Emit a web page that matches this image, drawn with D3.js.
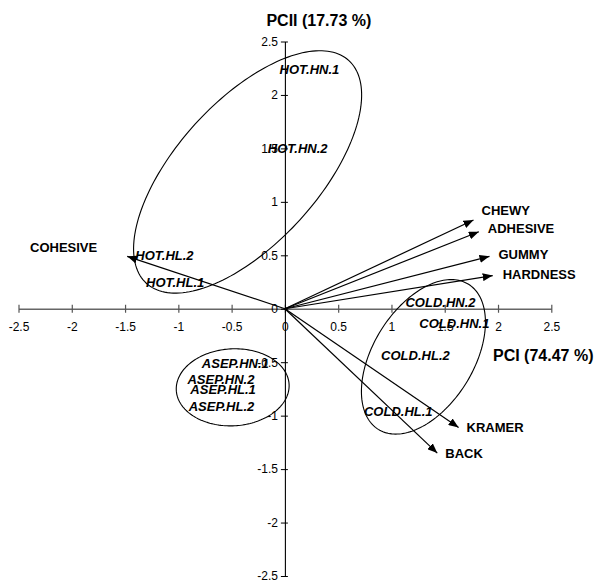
<!DOCTYPE html>
<html>
<head>
<meta charset="utf-8">
<script src="https://cdn.jsdelivr.net/npm/d3@7/dist/d3.min.js"></script>
<style>
  html, body { margin: 0; padding: 0; background: #fff; }
  svg { display: block; font-family: Arial, "Liberation Sans", sans-serif; }
</style>
</head>
<body>
<svg id="chart" width="594" height="583"></svg>
<script>
// Axis titles (explained variance per component)
const axisTitleX = "PCI (74.47 %)";
const axisTitleY = "PCII (17.73 %)";

// Tick values shared by both axes
const tickValues = [-2.5, -2, -1.5, -1, -0.5, 0, 0.5, 1, 1.5, 2, 2.5];

// Sample scores on PC1 / PC2
const sampleNames = ["HOT.HN.1", "HOT.HN.2", "HOT.HL.2", "HOT.HL.1",
                     "ASEP.HN.1", "ASEP.HN.2", "ASEP.HL.1", "ASEP.HL.2",
                     "COLD.HN.2", "COLD.HN.1", "COLD.HL.2", "COLD.HL.1"];
const samplePC1 = [0.23, 0.12, -1.13, -1.03,
                   -0.465, -0.60, -0.58, -0.595,
                   1.46, 1.59, 1.225, 1.064];
const samplePC2 = [2.243, 1.50, 0.50, 0.25,
                   -0.51, -0.66, -0.75, -0.91,
                   0.063, -0.14, -0.436, -0.96];

// Variable loadings (arrow tips)
const variableNames = ["CHEWY", "ADHESIVE", "GUMMY", "HARDNESS", "COHESIVE", "KRAMER", "BACK"];
const loadPC1 = [1.77, 1.82, 1.92, 1.95, -1.48, 1.63, 1.43];
const loadPC2 = [0.83, 0.72, 0.49, 0.31, 0.49, -1.11, -1.35];

// Group outlines: centre, semi-axes and tilt (degrees), in score units
const groupNames  = ["HOT", "ASEP", "COLD"];
const groupCX     = [-0.35, -0.49, 1.30];
const groupCY     = [1.28, -0.735, -0.45];
const groupA      = [1.41, 0.53, 0.80];
const groupB      = [0.665, 0.36, 0.47];
const groupAngle  = [47.6, 3, 58];

// ---- layout ----
const svg = d3.select("#chart");
const x = d3.scaleLinear().domain([-2.5, 2.5]).range([18.5, 551.3]);
const y = d3.scaleLinear().domain([-2.5, 2.5]).range([576, 41.5]);

// label placement relative to each arrow tip (px): [dx, dy, anchor]
const varLabelPlacement = {
  CHEWY:    [8, -10, "start"],
  ADHESIVE: [9, -3, "start"],
  GUMMY:    [9, -2, "start"],
  HARDNESS: [10, -1, "start"],
  COHESIVE: [-30, -9, "end"],
  KRAMER:   [8, 0, "start"],
  BACK:     [8, 0, "start"]
};

// ---- axes ----
const fmt = d => String(d);

const xAxis = svg.append("g")
  .attr("transform", `translate(0,${y(0)})`)
  .call(d3.axisBottom(x).tickValues(tickValues).tickFormat(fmt)
        .tickSizeInner(4).tickSizeOuter(0).tickPadding(10));
xAxis.select(".domain").attr("stroke", "#666").attr("stroke-width", 1.6);
xAxis.selectAll(".tick line").attr("y1", -4).attr("y2", 4)
  .attr("stroke", "#555").attr("stroke-width", 1.2);
xAxis.selectAll(".tick text")
  .attr("font-size", 12).attr("font-family", "Arial, 'Liberation Sans', sans-serif")
  .attr("fill", "#000");

const yAxis = svg.append("g")
  .attr("transform", `translate(${x(0)},0)`)
  .call(d3.axisLeft(y).tickValues(tickValues).tickFormat(fmt)
        .tickSizeInner(4).tickSizeOuter(0).tickPadding(3));
yAxis.select(".domain").attr("stroke", "#000").attr("stroke-width", 1.1);
yAxis.selectAll(".tick line").attr("x1", -4).attr("x2", 3)
  .attr("stroke", "#000").attr("stroke-width", 1);
yAxis.selectAll(".tick text")
  .attr("font-size", 12).attr("font-family", "Arial, 'Liberation Sans', sans-serif")
  .attr("fill", "#000");

// axis titles
svg.append("text")
  .attr("x", x(0) + 34).attr("y", 25.5)
  .attr("text-anchor", "middle")
  .attr("font-size", 16).attr("font-weight", "bold")
  .text(axisTitleY);
svg.append("text")
  .attr("x", 493).attr("y", 361)
  .attr("font-size", 16).attr("font-weight", "bold")
  .text(axisTitleX);

// ---- group ellipses ----
const ellipseLine = d3.line().x(p => x(p[0])).y(p => y(p[1])).curve(d3.curveLinearClosed);
const groups = groupNames.map((g, i) => {
  const th = groupAngle[i] * Math.PI / 180;
  const pts = d3.range(0, 360, 2).map(t => {
    const r = t * Math.PI / 180;
    const u = groupA[i] * Math.cos(r), v = groupB[i] * Math.sin(r);
    return [groupCX[i] + u * Math.cos(th) - v * Math.sin(th),
            groupCY[i] + u * Math.sin(th) + v * Math.cos(th)];
  });
  return { name: g, pts };
});
svg.append("g").selectAll("path").data(groups).join("path")
  .attr("d", d => ellipseLine(d.pts))
  .attr("fill", "none").attr("stroke", "#000").attr("stroke-width", 1.1);

// ---- loading arrows ----
svg.append("defs").append("marker")
  .attr("id", "arrowhead")
  .attr("viewBox", "0 0 10 8")
  .attr("refX", 10).attr("refY", 4)
  .attr("markerWidth", 10).attr("markerHeight", 8)
  .attr("markerUnits", "userSpaceOnUse")
  .attr("orient", "auto")
  .append("path").attr("d", "M0,0 L10,4 L0,8 Z").attr("fill", "#000");

const vars = variableNames.map((n, i) => ({ name: n, px: loadPC1[i], py: loadPC2[i] }));

svg.append("g").selectAll("line").data(vars).join("line")
  .attr("x1", x(0)).attr("y1", y(0))
  .attr("x2", d => x(d.px)).attr("y2", d => y(d.py))
  .attr("stroke", "#000").attr("stroke-width", 1.2)
  .attr("marker-end", "url(#arrowhead)");

svg.append("g").selectAll("text").data(vars).join("text")
  .attr("x", d => x(d.px) + varLabelPlacement[d.name][0])
  .attr("y", d => y(d.py) + varLabelPlacement[d.name][1])
  .attr("dy", "0.36em")
  .attr("text-anchor", d => varLabelPlacement[d.name][2])
  .attr("font-size", 13).attr("font-weight", "bold")
  .text(d => d.name);

// ---- sample labels ----
const samples = sampleNames.map((n, i) => ({ name: n, px: samplePC1[i], py: samplePC2[i] }));
svg.append("g").selectAll("text").data(samples).join("text")
  .attr("x", d => x(d.px)).attr("y", d => y(d.py))
  .attr("dy", "0.36em")
  .attr("text-anchor", "middle")
  .attr("font-size", 13).attr("font-weight", "bold").attr("font-style", "italic")
  .text(d => d.name);
</script>
</body>
</html>
